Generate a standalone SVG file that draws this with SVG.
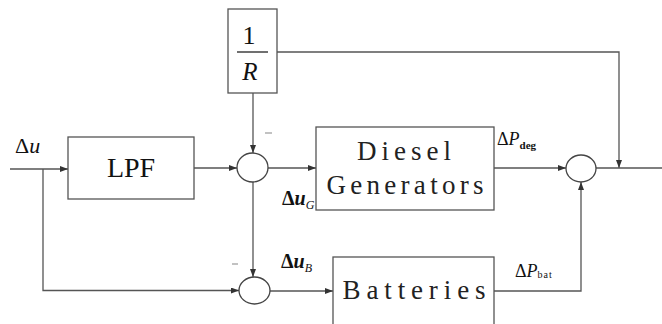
<svg xmlns="http://www.w3.org/2000/svg" width="662" height="324" viewBox="0 0 662 324">
<style>
.box{fill:#fff;stroke:#555;stroke-width:1.3}
.sum{fill:#fff;stroke:#444;stroke-width:1.3}
.ln{fill:none;stroke:#555;stroke-width:1.3}
.serif{font-family:"Liberation Serif","Times New Roman",serif;fill:#111}
.mono{font-family:"Liberation Serif","Times New Roman",serif;fill:#222}
.minus{stroke:#999;stroke-width:1.2}
</style>
<defs>
<marker id="ar" viewBox="0 0 8 6" refX="8" refY="3" markerWidth="8" markerHeight="6" markerUnits="userSpaceOnUse" orient="auto">
<path d="M0,0 L8,3 L0,6 Z" fill="#333"/>
</marker>
</defs>
<rect width="662" height="324" fill="#fff"/>
<g id="connectors">
<path class="ln" d="M10,169 H68" marker-end="url(#ar)"/>
<path class="ln" d="M43,169 V290.5 H239" marker-end="url(#ar)"/>
<path class="ln" d="M194,168 H237" marker-end="url(#ar)"/>
<path class="ln" d="M253,93 V153" marker-end="url(#ar)"/>
<path class="ln" d="M268,168 H316" marker-end="url(#ar)"/>
<path class="ln" d="M253,182 V277" marker-end="url(#ar)"/>
<path class="ln" d="M270,291 H333" marker-end="url(#ar)"/>
<path class="ln" d="M494,168 H566" marker-end="url(#ar)"/>
<path class="ln" d="M494,291 H581 V182" marker-end="url(#ar)"/>
<path class="ln" d="M277,52 H619 V168" marker-end="url(#ar)"/>
<path class="ln" d="M596,168 H662"/>
</g>
<g id="gain">
<rect class="box" x="228" y="9" width="49" height="84"/>
<text class="serif" x="249" y="44" font-size="26" text-anchor="middle">1</text>
<line x1="237" y1="52" x2="268" y2="52" stroke="#222" stroke-width="1.3"/>
<text class="serif" x="250" y="80" font-size="25" font-style="italic" text-anchor="middle">R</text>
</g>
<g id="lpf">
<rect class="box" x="68" y="137" width="126" height="62"/>
<text class="serif" x="131" y="177" font-size="28" text-anchor="middle">LPF</text>
</g>
<g id="sum1">
<ellipse class="sum" cx="252.5" cy="167.5" rx="15.5" ry="14.5"/>
</g>
<g id="sum3">
<ellipse class="sum" cx="254.5" cy="290.5" rx="15.5" ry="13.5"/>
</g>
<g id="sum2">
<ellipse class="sum" cx="581" cy="168.5" rx="15" ry="13.5"/>
</g>
<g id="diesel">
<rect class="box" x="316" y="127" width="178" height="83"/>
<text class="mono" x="404" y="160" font-size="27" text-anchor="middle" textLength="94" lengthAdjust="spacing">Diesel</text>
<text class="mono" x="405" y="194" font-size="27" text-anchor="middle" textLength="157" lengthAdjust="spacing">Generators</text>
</g>
<g id="batteries">
<rect class="box" x="333" y="257" width="161" height="75"/>
<text class="mono" x="414" y="299" font-size="27" text-anchor="middle" textLength="143" lengthAdjust="spacing">Batteries</text>
</g>
<g id="labels">
<text class="serif" x="15" y="153" font-size="22">Δ<tspan font-style="italic">u</tspan></text>
<text class="serif" x="497" y="145" font-size="18">Δ<tspan font-style="italic">P</tspan><tspan font-size="11" font-weight="bold" dy="4">deg</tspan></text>
<text class="serif" x="515" y="277" font-size="18">Δ<tspan font-style="italic">P</tspan><tspan font-size="10" dy="1" letter-spacing="1">bat</tspan></text>
<text class="serif" x="282" y="205" font-size="20" font-weight="bold">Δ<tspan font-style="italic">u</tspan><tspan font-size="12" font-style="italic" font-weight="normal" dy="4">G</tspan></text>
<text class="serif" x="281" y="268" font-size="20" font-weight="bold">Δ<tspan font-style="italic">u</tspan><tspan font-size="12" font-style="italic" font-weight="normal" dy="4">B</tspan></text>
<line class="minus" x1="265" y1="133" x2="272" y2="133"/>
<line class="minus" x1="232" y1="264" x2="238" y2="264"/>
</g>
</svg>
